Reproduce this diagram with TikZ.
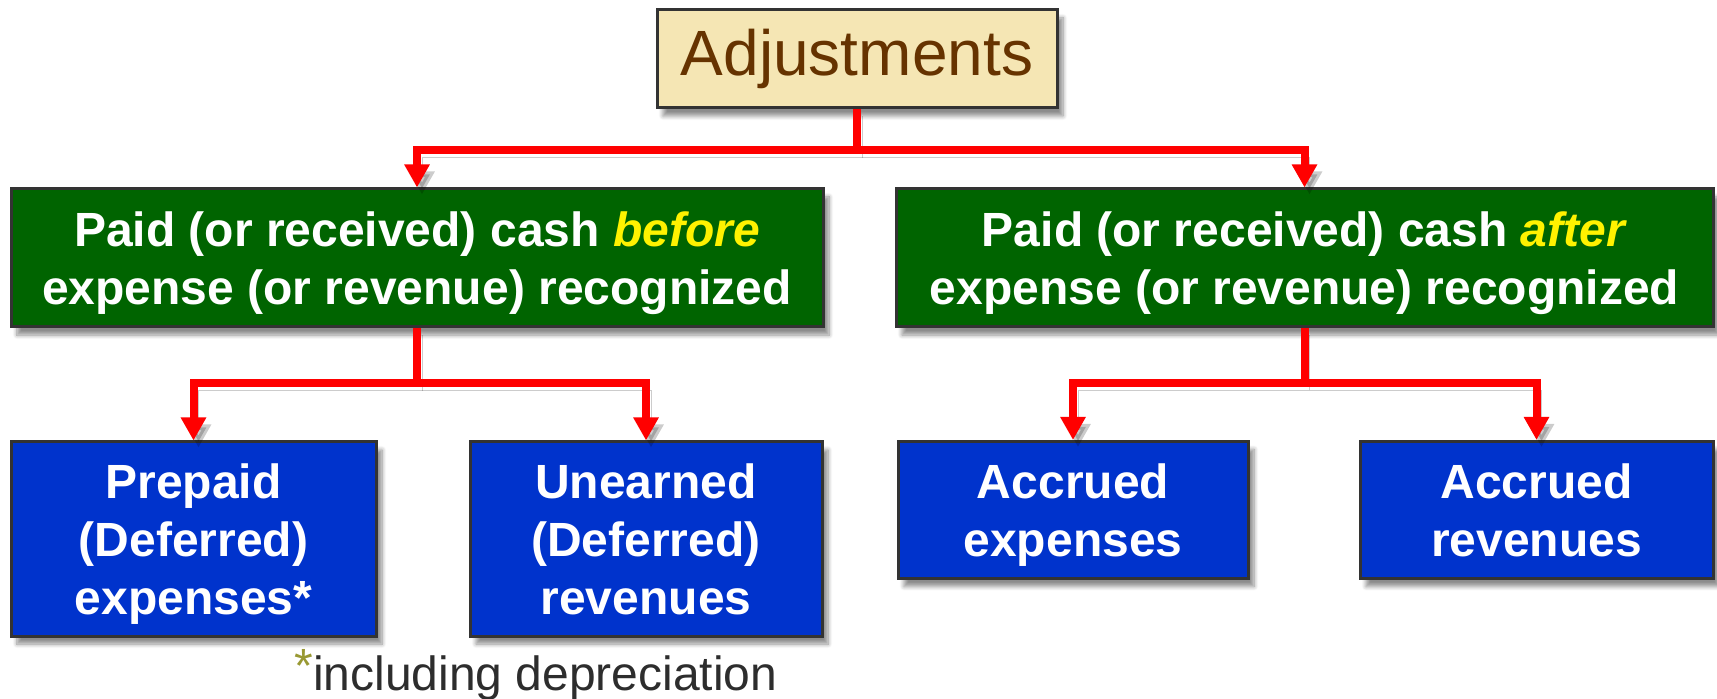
\documentclass[tikz,border=0pt]{standalone}
\usepackage{fontspec}
\setmainfont{Liberation Sans}
\usepackage{xcolor}
\usetikzlibrary{arrows.meta, positioning, shadows.blur}
\definecolor{adjfill}{RGB}{245,230,180}
\definecolor{adjtext}{RGB}{102,51,0}
\definecolor{cashgreen}{RGB}{0,100,0}
\definecolor{acctblue}{RGB}{0,51,204}
\definecolor{notegray}{RGB}{45,45,45}
\definecolor{starolive}{RGB}{153,153,51}
\newcommand{\keyword}[1]{\textcolor{yellow}{\textit{#1}}}

\begin{document}
\begin{tikzpicture}[x=0.5pt,y=-0.5pt,
  shade/.style={blur shadow={shadow xshift=3pt,shadow yshift=-4pt,shadow blur steps=8,shadow opacity=45}},
  topbox/.style={draw=black!80,line width=1.5pt,fill=adjfill,text=adjtext,shade,
              minimum width=200pt,minimum height=49pt,inner sep=0pt,
              font=\fontsize{32}{36}\selectfont},
  greenbox/.style={draw=black!80,line width=1.5pt,fill=cashgreen,text=white,shade,
              align=center,minimum height=69pt,inner sep=0pt,text depth=0pt,
              font=\fontsize{24}{29}\selectfont\bfseries},
  bluebox/.style={draw=black!80,line width=1.5pt,fill=acctblue,text=white,shade,
              align=center,inner sep=0pt,text depth=0pt,
              font=\fontsize{24}{29}\selectfont\bfseries},
  link/.style={-{Triangle[width=12pt,length=11.5pt]},red,line width=4pt,
              preaction={draw=black,opacity=0.2,transform canvas={shift={(2.5pt,-3.5pt)}}}},
  note/.style={text=notegray,inner sep=0pt,font=\fontsize{24}{28}\selectfont}
]
\useasboundingbox (0,0) rectangle (1717,699);

\node[topbox] (adj) at (857,59) {Adjustments};
\node[greenbox,minimum width=406pt] (before) at (417,258)
  {Paid (or received) cash \keyword{before}\\expense (or revenue) recognized};
\node[greenbox,minimum width=408.5pt] (after) at (1304.5,258)
  {Paid (or received) cash \keyword{after}\\expense (or revenue) recognized};

\node[bluebox,minimum width=182.5pt,minimum height=97pt] (prepaid) at (193.5,539)
  {Prepaid\\(Deferred)\\expenses*};
\node[bluebox,minimum width=176pt,minimum height=97pt] (unearned) at (646,539)
  {Unearned\\(Deferred)\\revenues};
\node[bluebox,minimum width=175pt,minimum height=68.5pt] (accexp) at (1073,510)
  {Accrued\\expenses};
\node[bluebox,minimum width=176.5pt,minimum height=68.5pt] (accrev) at (1536.5,510)
  {Accrued\\revenues};

\node[note,anchor=base west] (fn) at (294,690)
  {\textcolor{starolive}{\raisebox{4pt}{*}}including depreciation};

% connectors
\coordinate (j0) at (857,150);
\coordinate (j1) at (417,383);
\coordinate (j2) at (1304.5,383);
\draw[link] (adj.south) -- (j0) -| (before.north);
\draw[link] (j0) -| (after.north);
\draw[link] (before.south) -- (j1) -| (prepaid.north);
\draw[link] (j1) -| (unearned.north);
\draw[link] (after.south) -- (j2) -| (accexp.north);
\draw[link] (j2) -| (accrev.north);
\end{tikzpicture}
\end{document}
